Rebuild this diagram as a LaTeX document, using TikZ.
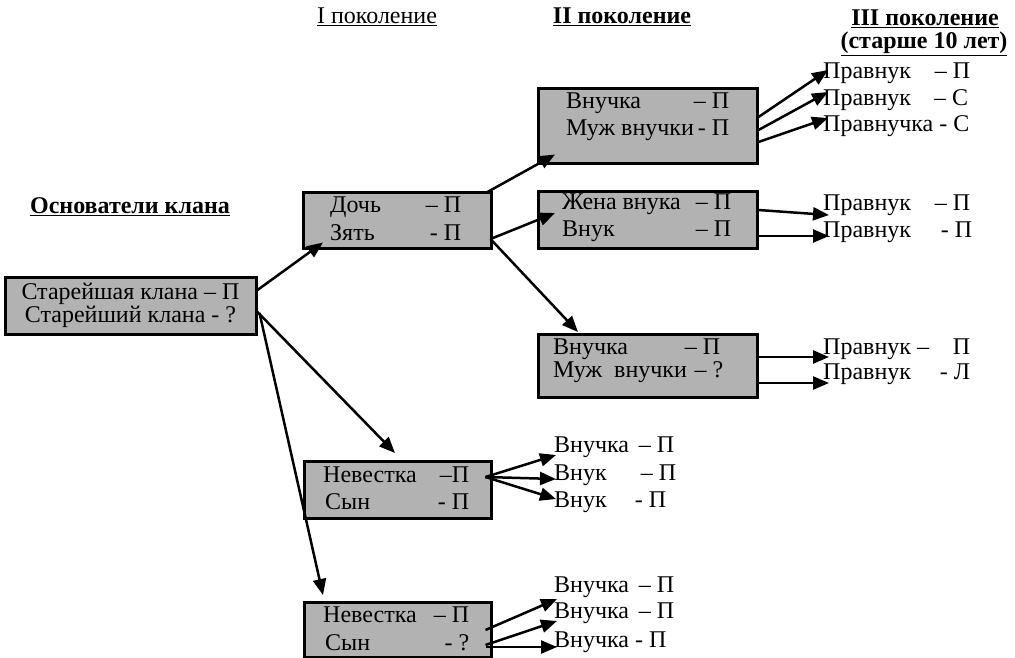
\documentclass[tikz,border=0pt]{standalone}
\usepackage{fontspec}
\setmainfont{Liberation Serif}
\usetikzlibrary{arrows.meta}
\newcommand\rowline[3]{\hbox to #1pt{#2\hfill#3}}
\begin{document}
\begin{tikzpicture}[x=1pt,y=-1pt,
  box/.style={draw=black, line width=2.5pt, fill=black!30, anchor=north west, inner sep=0pt},
  txt/.style={anchor=west, inner sep=0pt, font=\fontsize{24}{27}\selectfont},
  ctxt/.style={anchor=center, inner sep=0pt, font=\fontsize{24}{27}\selectfont},
  hdr/.style={anchor=center, inner sep=0pt, font=\fontsize{24}{27}\selectfont\bfseries},
  arr/.style={line width=2.5pt, -{Triangle[length=16pt,width=13pt]}}]
\useasboundingbox (0,0) rectangle (1015,657);

% headers
\node[hdr] (h0) at (130,207) {\underline{Основатели клана}};
\node[hdr, font=\fontsize{24}{27}\selectfont] (h1) at (377,17) {\underline{I поколение}};
\node[hdr] (h2) at (622,17) {\underline{II поколение}};
\node[hdr] (h3) at (925,19) {\underline{III поколение}};
\node[hdr] (h3b) at (924,44) {\underline{(старше 10 лет)}};

% boxes
\node[box, minimum width=251pt, minimum height=57pt] (root) at (4,276) {};
\node[box, minimum width=188pt, minimum height=56pt] (dz) at (302,191) {};
\node[box, minimum width=219pt, minimum height=75pt] (vb) at (537,87) {};
\node[box, minimum width=219pt, minimum height=57pt] (zv) at (537,190) {};
\node[box, minimum width=219pt, minimum height=63pt] (v3) at (537,333) {};
\node[box, minimum width=187pt, minimum height=57pt] (n1) at (303,460) {};
\node[box, minimum width=187pt, minimum height=55pt] (n2) at (303,601) {};

% box texts
\node[ctxt] (rt1) at (130.5,294) {Старейшая клана – П};
\node[ctxt] (rt2) at (130.5,317) {Старейший клана - ?};
\node[txt] (dzt1) at (330,207) {\rowline{131}{Дочь}{– П}};
\node[txt] (dzt2) at (330,233) {\rowline{131}{Зять}{- П}};
\node[txt] (vbt1) at (566,103) {\rowline{163}{Внучка}{– П}};
\node[txt] (vbt2) at (566,130) {\rowline{163}{Муж внучки}{- П}};
\node[txt] (zvt1) at (562,204) {\rowline{169}{Жена внука}{– П}};
\node[txt] (zvt2) at (562,231) {\rowline{169}{Внук}{– П}};
\node[txt] (v3t1) at (553,349) {\rowline{167}{Внучка}{– П}};
\node[txt] (v3t2) at (553,372) {\rowline{170}{Муж\ \ внучки}{– ?}};
\node[txt] (n1t1) at (323,475) {\rowline{146}{Невестка}{–П}};
\node[txt] (n1t2) at (325,502) {\rowline{144}{Сын}{- П}};
\node[txt] (n2t1) at (323,615) {\rowline{146}{Невестка}{– П}};
\node[txt] (n2t2) at (325,643) {\rowline{144}{Сын}{- ?}};

% generation III texts
\node[txt] (p1) at (823,73) {\rowline{147}{Правнук}{– П}};
\node[txt] (p2) at (823,100) {\rowline{145}{Правнук}{– С}};
\node[txt] (p3) at (823,126) {Правнучка - С};
\node[txt] (p4) at (823,205) {\rowline{147}{Правнук}{– П}};
\node[txt] (p5) at (823,232) {\rowline{149}{Правнук}{- П}};
\node[txt] (p6) at (823,349) {\rowline{147}{Правнук –}{П}};
\node[txt] (p7) at (823,374) {\rowline{147}{Правнук}{- Л}};

% generation II texts (from sons)
\node[txt] (a1) at (554,447) {\rowline{120}{Внучка}{– П}};
\node[txt] (a2) at (554,475) {\rowline{122}{Внук}{– П}};
\node[txt] (a3) at (554,502) {\rowline{112}{Внук}{- П}};
\node[txt] (b1) at (554,587) {\rowline{120}{Внучка}{– П}};
\node[txt] (b2) at (554,613) {\rowline{120}{Внучка}{– П}};
\node[txt] (b3) at (554,642) {Внучка - П};

% arrows from root  (root: x 4..255, y 276..333)
\draw[arr] ([yshift=-14pt]root.north east) -- ([xshift=21pt,yshift=7pt]dz.south west);
\draw[arr] ([yshift=-36pt]root.north east) -- ([xshift=92pt,yshift=7pt]n1.north west);
\draw[arr] ([xshift=2pt,yshift=-37pt]root.north east) -- ([xshift=20pt,yshift=6pt]n2.north west);

% arrows from daughter box (dz: x 302..490, y 191..247)
\draw[arr] ([xshift=-5pt,yshift=-1pt]dz.north east) -- ([xshift=18pt,yshift=10pt]vb.south west);
\draw[arr] ([xshift=-2pt,yshift=-48pt]dz.north east) -- ([xshift=18pt,yshift=-23pt]zv.north west);
\draw[arr] ([xshift=-2pt,yshift=-48pt]dz.north east) -- ([xshift=41pt,yshift=1pt]v3.north west);

% arrows to generation III
\draw[arr] ([yshift=-30pt]vb.north east) -- ([xshift=5pt,yshift=3pt]p1.west);
\draw[arr] ([yshift=-43pt]vb.north east) -- ([xshift=5pt,yshift=8pt]p2.west);
\draw[arr] ([yshift=-55pt]vb.north east) -- ([xshift=5pt,yshift=8pt]p3.west);
\draw[arr] ([yshift=-20pt]zv.north east) -- ([xshift=6pt,yshift=-10pt]p4.west);
\draw[arr] ([yshift=-46pt]zv.north east) -- ([xshift=6pt,yshift=-4pt]p5.west);
\draw[arr] ([yshift=-24pt]v3.north east) -- ([xshift=6pt,yshift=-8pt]p6.west);
\draw[arr] ([yshift=-50pt]v3.north east) -- ([xshift=6pt,yshift=-9pt]p7.west);

% arrows from sons' boxes
\draw[arr] ([xshift=-7pt,yshift=-17pt]n1.north east) -- ([xshift=2pt,yshift=-8pt]a1.west);
\draw[arr] ([xshift=-7pt,yshift=-17pt]n1.north east) -- ([xshift=2pt,yshift=-4pt]a2.west);
\draw[arr] ([xshift=-7pt,yshift=-17pt]n1.north east) -- ([xshift=2pt,yshift=3pt]a3.west);
\draw[arr] ([xshift=-7pt,yshift=-29pt]n2.north east) -- ([xshift=3pt,yshift=-12pt]b1.west);
\draw[arr] ([xshift=-7pt,yshift=-44pt]n2.north east) -- ([xshift=3pt,yshift=-8pt]b2.west);
\draw[arr] ([xshift=-7pt,yshift=-46pt]n2.north east) -- ([xshift=3pt,yshift=-5pt]b3.west);
\end{tikzpicture}
\end{document}
